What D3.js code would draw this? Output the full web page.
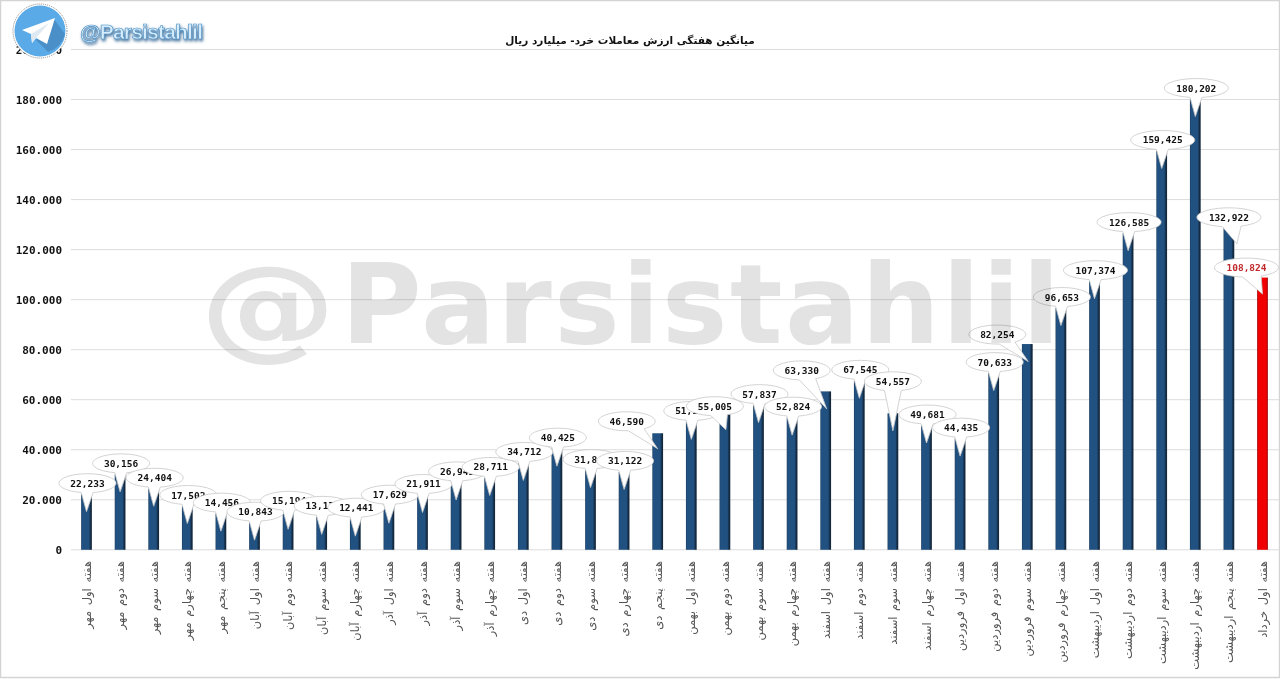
<!DOCTYPE html>
<html><head><meta charset="utf-8">
<script src="https://cdnjs.cloudflare.com/ajax/libs/d3/7.8.5/d3.min.js"></script>
<style>html,body{margin:0;padding:0;background:#fff}svg{display:block}</style></head>
<body><svg id="c" width="1280" height="679"></svg>
<script>
const categories=["هفته اول مهر","هفته دوم مهر","هفته سوم مهر","هفته چهارم مهر","هفته پنجم مهر","هفته اول آبان","هفته دوم آبان","هفته سوم آبان","هفته چهارم آبان","هفته اول آذر","هفته دوم آذر","هفته سوم آذر","هفته چهارم آذر","هفته اول دی","هفته دوم دی","هفته سوم دی","هفته چهارم دی","هفته پنجم دی","هفته اول بهمن","هفته دوم بهمن","هفته سوم بهمن","هفته چهارم بهمن","هفته اول اسفند","هفته دوم اسفند","هفته سوم اسفند","هفته چهارم اسفند","هفته اول فروردین","هفته دوم فروردین","هفته سوم فروردین","هفته چهارم فروردین","هفته اول اردیبهشت","هفته دوم اردیبهشت","هفته سوم اردیبهشت","هفته چهارم اردیبهشت","هفته پنجم اردیبهشت","هفته اول خرداد"];
const values=[22233,30156,24404,17503,14456,10843,15194,13174,12441,17629,21911,26945,28711,34712,40425,31846,31122,46590,51124,55005,57837,52824,63330,67545,54557,49681,44435,70633,82254,96653,107374,126585,159425,180202,132922,108824];
const ticks=[0,20000,40000,60000,80000,100000,120000,140000,160000,180000,200000];
// callouts moved away from their default spot above the bar: {bar index: [dx, dy, tipDx, tipDy]}
const calloutShift={17:[-32,-1,0,-2],19:[-11,5,1,0],22:[-25,-10,1,0],24:[-1,-21,0,0],28:[-31,1.5,1,0],34:[-1,11,8,9],35:[-17,1,0,-1]};
const title="میانگین هفتگی ارزش معاملات خرد- میلیارد ریال";
const fmt=v=>d3.format(",")(v);

const svg=d3.select("#c");
const y=d3.scaleLinear().domain([0,200000]).range([549.8,49.5]);
const x=d3.scaleBand().domain(categories).range([69.7,1279.3]).paddingInner(0.68).paddingOuter(0.34);
const defs=svg.append("defs");
function grad(id,stops){const g=defs.append("linearGradient").attr("id",id);
  stops.forEach(s=>g.append("stop").attr("offset",s[0]).attr("stop-color",s[1]));}
grad("bb",[[0,"#1c3f63"],[0.1,"#215180"],[0.72,"#215180"],[0.9,"#13293f"],[1,"#13293f"]]);
grad("br",[[0,"#8a0a0a"],[0.1,"#f00000"],[0.85,"#f00000"],[1,"#8a0a0a"]]);
const f=defs.append("filter").attr("id","sh").attr("x","-10%").attr("y","-20%").attr("width","120%").attr("height","160%");
f.append("feDropShadow").attr("dx",1).attr("dy",2).attr("stdDeviation",1.4).attr("flood-color","#24598a").attr("flood-opacity",0.9);

// frame
svg.append("rect").attr("x",0.5).attr("y",0.5).attr("width",1279).attr("height",677).attr("fill","#fff").attr("stroke","#d4d4d4").attr("stroke-width",1.5);

// axis + grid
const yAxis=d3.axisLeft(y).tickValues(ticks).tickSize(0).tickPadding(8).tickFormat(d=>d===0?"0":d3.format(",")(d).replace(",","."));
const ga=svg.append("g").attr("transform","translate(70,0)").call(yAxis);
ga.select(".domain").remove();
ga.selectAll("text").attr("font-family","'DejaVu Sans Mono'").attr("font-weight","bold").attr("font-size",11).attr("fill","#111");
svg.append("g").selectAll("line").data(ticks).join("line")
 .attr("x1",71).attr("x2",1279).attr("y1",d=>y(d)).attr("y2",d=>y(d)).attr("stroke","#dcdcdc").attr("stroke-width",1);

// bars
svg.append("g").selectAll("rect").data(values).join("rect")
 .attr("x",(d,i)=>x(categories[i])).attr("width",x.bandwidth())
 .attr("y",d=>y(d)).attr("height",d=>y(0)-y(d))
 .attr("fill",(d,i)=>i===values.length-1?"url(#br)":"url(#bb)");

// x labels
svg.append("g").selectAll("text").data(categories).join("text")
 .attr("transform",d=>`translate(${x(d)+x.bandwidth()/2+4},561) rotate(-90)`)
 .attr("direction","rtl").attr("text-anchor","start")
 .attr("font-family","'DejaVu Sans'").attr("font-size",11.5).attr("word-spacing",2).attr("fill","#555").text(d=>d);

// callouts
const g=svg.append("g");
values.forEach((v,i)=>{
  const bx=x(categories[i])+x.bandwidth()/2, top=y(v);
  const s=calloutShift[i]||[0,0,0,0];
  const label=fmt(v), rx=label.length>6?32:28.5, ry=9.5;
  const cx=bx+1+s[0], cy=top-11+s[1], tx=bx+s[2], ty=top+17.5+s[3];
  const th=Math.atan2((ty-cy)/ry,(tx-cx)/rx), w=(s[0]||s[1])?0.3:6/rx;
  const p1=[cx+rx*Math.cos(th+w),cy+ry*Math.sin(th+w)], p2=[cx+rx*Math.cos(th-w),cy+ry*Math.sin(th-w)];
  g.append("path").attr("d",`M${p1[0]},${p1[1]}A${rx},${ry} 0 1 1 ${p2[0]},${p2[1]}L${tx},${ty}Z`)
   .attr("fill","#fff").attr("stroke","#c8c8c8").attr("stroke-width",0.8);
  g.append("text").attr("x",cx).attr("y",cy+3.5).attr("text-anchor","middle")
   .attr("font-family","'DejaVu Sans Mono'").attr("font-weight","bold").attr("font-size",9.5)
   .attr("fill",i===values.length-1?"#c0282a":"#111").text(label);
});

// watermark, blended over the chart
const wm=svg.append("g").style("mix-blend-mode","multiply").attr("font-family","'DejaVu Sans'").attr("font-weight","bold").attr("fill","#e3e3e3");
wm.append("text").attr("x",200).attr("y",345).attr("font-size",112).attr("textLength",136).attr("lengthAdjust","spacingAndGlyphs").text("@");
wm.append("text").attr("x",341).attr("y",343).attr("font-size",110).attr("textLength",719).attr("lengthAdjust","spacing").text("Parsistahlil");

// title
svg.append("text").attr("x",630).attr("y",44).attr("text-anchor","middle").attr("direction","rtl")
 .attr("font-family","'DejaVu Sans'").attr("font-weight","bold").attr("font-size",10.5).attr("fill","#111").text(title);

// logo
const lg=svg.append("g").attr("transform","translate(40,31)");
lg.append("circle").attr("r",27).attr("fill","#fff").attr("stroke","#888").attr("stroke-dasharray","1 1");
lg.append("circle").attr("r",25.5).attr("fill","#5aaae8");
lg.append("path").attr("d","M-4,9L8,21A25.5,25.5 0 0 0 25,3L14,-12Z").attr("fill","#4a8fc8");
lg.append("path").attr("d","M-18,-1L15,-13L7,13L-4,7L-8,12L-9,3Z").attr("fill","#fff");
lg.append("path").attr("d","M-9,3L9,-8L-4,7L-8,12Z").attr("fill","#dfe9f1");
svg.append("text").attr("x",80).attr("y",39).attr("font-family","'Liberation Sans'").attr("font-size",21).attr("font-weight","bold")
 .attr("textLength",123).attr("fill","#d4ecfb").attr("stroke","#4d8fc4").attr("stroke-width",0.6).attr("filter","url(#sh)").text("@Parsistahlil");
</script></body></html>
